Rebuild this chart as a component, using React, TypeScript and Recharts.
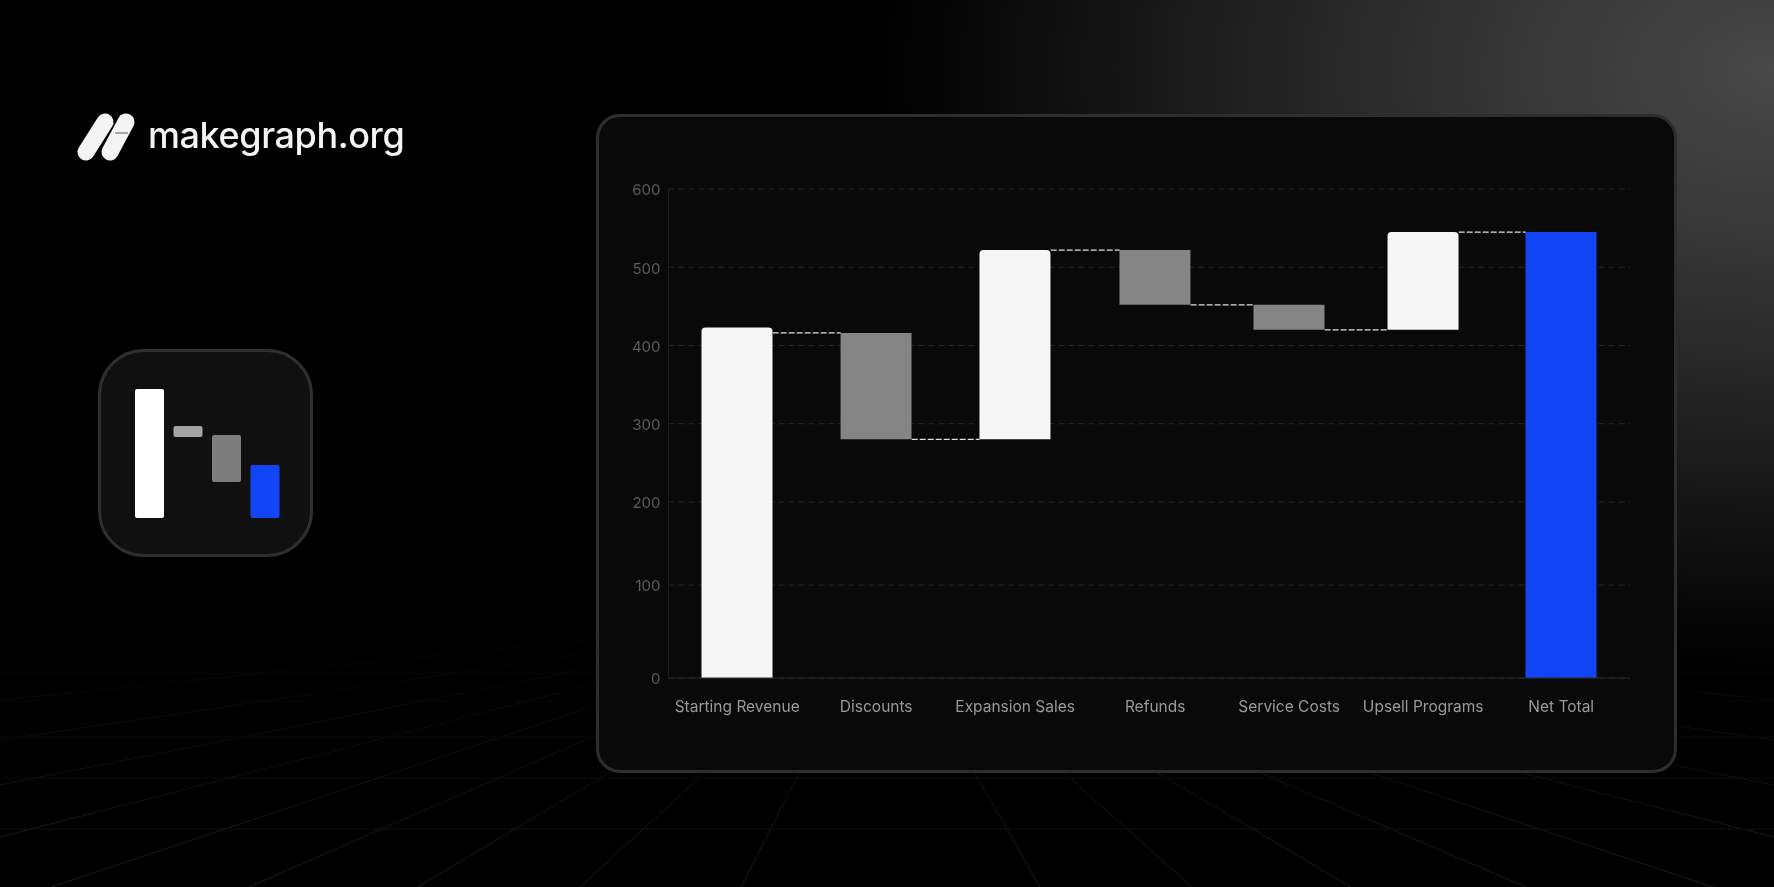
import { Bar, BarChart, CartesianGrid, Cell, ReferenceLine, XAxis, YAxis } from 'recharts';

const categories = ['Starting Revenue', 'Discounts', 'Expansion Sales', 'Refunds', 'Service Costs', 'Upsell Programs', 'Net Total'];
const barLows = [0, 280, 280, 452, 420, 420, 0];
const barHighs = [423, 416, 522, 522, 452, 545, 545];
const barKinds = ['up', 'down', 'up', 'down', 'down', 'up', 'total'];
const connectorLevels = [416, 280, 522, 452, 420, 545];
const yTicks = [0, 100, 200, 300, 400, 500, 600];

const iconLabels = ['a', 'b', 'c', 'd'];
const iconLows = [0, 81, 36, 0];
const iconHighs = [129, 92, 83, 53];
const iconColors = ['#ffffff', '#a3a3a3', '#7d7d7d', '#1245f5'];

const kindColors: Record<string, string> = { up: '#f6f6f6', down: '#858585', total: '#1245f5' };

const chartData = categories.map((name, i) => ({ name, range: [barLows[i], barHighs[i]], kind: barKinds[i] }));
const iconData = iconLabels.map((name, i) => ({ name, range: [iconLows[i], iconHighs[i]] }));

const BAR_WIDTH = 71;

// the y axis in the picture isn't evenly spaced, so the ticks get their share of the height by hand
const yShares = [0, 0.19, 0.36, 0.52, 0.68, 0.84, 1];

function makeYScale(dom: any[] = [0, 600], rng: number[] = [489, 0]) {
  const s: any = (v: number) => {
    let i = 0;
    while (i < yTicks.length - 2 && v > yTicks[i + 1]) i++;
    const t = (v - yTicks[i]) / (yTicks[i + 1] - yTicks[i]);
    const share = yShares[i] + t * (yShares[i + 1] - yShares[i]);
    return rng[0] + share * (rng[1] - rng[0]);
  };
  s.domain = (d?: any[]) => (d ? ((dom = d), s) : dom);
  s.range = (r?: number[]) => (r ? ((rng = r), s) : rng);
  s.copy = () => makeYScale(dom, rng);
  s.ticks = () => yTicks;
  return s;
}

// same for the categories, the bands drift a few px from even spacing
const xShares = [0, 0.1446, 0.2891, 0.4347, 0.5741, 0.7135, 0.857];

function makeXScale(dom: any[] = categories, rng: number[] = [0, 961.5]) {
  const s: any = (v: string) => {
    const i = categories.indexOf(v);
    if (i < 0) return undefined;
    return rng[0] + xShares[i] * (rng[1] - rng[0]);
  };
  s.domain = (d?: any[]) => (d ? ((dom = d), s) : dom);
  s.range = (r?: number[]) => (r ? ((rng = r), s) : rng);
  s.copy = () => makeXScale(dom, rng);
  s.bandwidth = () => (rng[1] - rng[0]) / categories.length;
  return s;
}

const floorX = [51, 249, 418, 580, 741, 1040, 1192, 1351, 1526, 1713];
const sideY = [837, 785, 740, 700];
const floorY = [829, 778, 737, 701, 673];

// connector only runs across the gap between two bars
function GapLine(props: any) {
  const { x1, y1, x2, y2 } = props;
  return (
    <line
      x1={x1 + BAR_WIDTH / 2}
      y1={y1}
      x2={x2 - BAR_WIDTH / 2}
      y2={y2}
      stroke="#e0e0e0"
      strokeWidth={1.2}
      strokeDasharray="6 2"
    />
  );
}

function Backdrop() {
  const vx = 882;
  const vy = 610;
  return (
    <svg width={1774} height={887} style={{ position: 'absolute', left: 0, top: 0 }}>
      <defs>
        <linearGradient id="fade" x1="0" y1="0" x2="0" y2="1">
          <stop offset="0.66" stopColor="#fff" stopOpacity={0} />
          <stop offset="0.84" stopColor="#fff" stopOpacity={0.45} />
          <stop offset="1" stopColor="#fff" stopOpacity={1} />
        </linearGradient>
        <mask id="floorMask">
          <rect width={1774} height={887} fill="url(#fade)" />
        </mask>
      </defs>
      <g mask="url(#floorMask)" stroke="#1f1f1f" strokeWidth={1} fill="none">
        {floorX.map((x) => (
          <line key={x} x1={vx} y1={vy} x2={x} y2={887} />
        ))}
        {sideY.map((y) => (
          <g key={y}>
            <line x1={vx} y1={vy} x2={0} y2={y} />
            <line x1={vx} y1={vy} x2={1774} y2={y} />
          </g>
        ))}
        {floorY.map((y) => (
          <line key={y} x1={0} y1={y} x2={1774} y2={y} stroke="#171717" />
        ))}
      </g>
    </svg>
  );
}

function Logo() {
  return (
    <>
      <svg width={70} height={60} style={{ position: 'absolute', left: 72, top: 108 }}>
        <g stroke="#f4f4f4" strokeWidth={17} strokeLinecap="round">
          <line x1={14} y1={44} x2={33} y2={14} />
          <line x1={38} y1={44} x2={54} y2={14} />
        </g>
        <line x1={43} y1={25} x2={56} y2={25} stroke="#a8a8a8" strokeWidth={2} />
      </svg>
      <div
        style={{
          position: 'absolute',
          left: 148,
          top: 111,
          fontFamily: 'Inter, sans-serif',
          fontSize: 36,
          fontWeight: 450,
          lineHeight: '48px',
          letterSpacing: -0.4,
          color: '#f4f4f4',
        }}
      >
        makegraph.org
      </div>
    </>
  );
}

function IconTile() {
  return (
    <div
      style={{
        position: 'absolute',
        left: 98,
        top: 349,
        width: 209,
        height: 202,
        boxSizing: 'content-box',
        border: '3px solid #2f2f2f',
        borderRadius: 46,
        background: '#101010',
      }}
    >
      <BarChart
        width={154}
        height={129}
        data={iconData}
        margin={{ top: 0, right: 0, bottom: 0, left: 0 }}
        barSize={29}
        style={{ position: 'absolute', left: 28.5, top: 37 }}
      >
        <XAxis dataKey="name" hide />
        <YAxis hide domain={[0, 129]} />
        <Bar dataKey="range" radius={2} isAnimationActive={false}>
          {iconData.map((d, i) => (
            <Cell key={d.name} fill={iconColors[i]} />
          ))}
        </Bar>
      </BarChart>
    </div>
  );
}

function Waterfall() {
  return (
    <BarChart
      width={1081}
      height={659}
      data={chartData}
      margin={{ top: 75, right: 47, bottom: 65, left: 22.5 }}
      barSize={BAR_WIDTH}
    >
      <CartesianGrid horizontal vertical={false} stroke="#262626" strokeDasharray="6 4" />
      <XAxis
        dataKey="name"
        scale={makeXScale() as any}
        height={30}
        interval={0}
        axisLine={{ stroke: '#2a2a2a', strokeWidth: 1 }}
        tickLine={false}
        tickMargin={17}
        tick={{ fill: '#9a9a9a', fontSize: 15.5, fontFamily: 'Inter, sans-serif' }}
      />
      <YAxis
        width={50}
        scale={makeYScale() as any}
        domain={[0, 600]}
        ticks={yTicks}
        axisLine={{ stroke: '#1c1c1c', strokeWidth: 1 }}
        tickLine={false}
        tickMargin={2}
        tick={{ fill: '#5c5c5c', fontSize: 15, fontFamily: 'Inter, sans-serif', dy: 1 }}
      />
      <Bar dataKey="range" isAnimationActive={false}>
        {chartData.map((d) => (
          <Cell key={d.name} fill={kindColors[d.kind]} radius={(d.kind === 'up' ? [4, 4, 0, 0] : 0) as any} />
        ))}
      </Bar>
      {connectorLevels.map((level, i) => (
        <ReferenceLine
          key={categories[i]}
          segment={[
            { x: categories[i], y: level },
            { x: categories[i + 1], y: level },
          ]}
          shape={GapLine}
        />
      ))}
    </BarChart>
  );
}

export default function App() {
  return (
    <div
      style={{
        position: 'fixed',
        left: 0,
        top: 0,
        width: 1774,
        height: 887,
        overflow: 'hidden',
        background:
          'radial-gradient(ellipse 900px 600px at 1774px 70px, #484848 0%, #363636 30%, #212121 58%, #0b0b0b 85%, #000 100%)',
      }}
    >
      <Backdrop />
      <Logo />
      <IconTile />
      <div
        style={{
          position: 'absolute',
          left: 596,
          top: 114,
          width: 1081,
          height: 659,
          boxSizing: 'border-box',
          border: '3px solid #2e2e2e',
          borderRadius: 24,
          background: '#090909',
        }}
      >
        <div style={{ position: 'absolute', left: -3, top: -3 }}>
          <Waterfall />
        </div>
      </div>
    </div>
  );
}
